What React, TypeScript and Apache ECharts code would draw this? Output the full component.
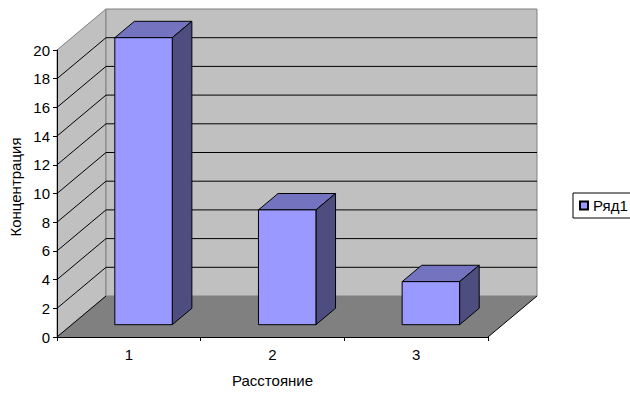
import React, { useEffect, useRef } from "react";
import * as echarts from "echarts";

const categories = ["1", "2", "3"];
const seriesName = "Ряд1";
const values = [20, 8, 3];
const yMin = 0;
const yMax = 20;
const yStep = 2;
const xTitle = "Расстояние";
const yTitle = "Концентрация";

// oblique depth of the floor/walls, in pixels
const DX = 49;
const DY = -41;
// bars occupy this slice of the floor's depth
const F1 = 0.3;
const F2 = 0.7;
const BAR_FRAC = 0.4;

const FONT = "'Liberation Sans', Arial, sans-serif";
const FS = 15;

export default function App() {
  const ref = useRef<HTMLDivElement>(null);

  useEffect(() => {
    if (!ref.current) return;
    const chart = echarts.init(ref.current, null, { renderer: "svg" });

    const tickValues: number[] = [];
    for (let v = yMin; v <= yMax; v += yStep) tickValues.push(v);

    const renderWalls = (params: any, api: any) => {
      const cs = params.coordSys;
      const x = cs.x;
      const y = cs.y;
      const w = cs.width;
      const h = cs.height;
      const children: any[] = [];
      // left side wall
      children.push({
        type: "polygon",
        shape: { points: [[x, y], [x + DX, y + DY], [x + DX, y + h + DY], [x, y + h]] },
        style: { fill: "#C0C0C0", stroke: "#808080", lineWidth: 1 },
      });
      // back wall
      children.push({
        type: "rect",
        shape: { x: x + DX, y: y + DY, width: w, height: h },
        style: { fill: "#C0C0C0", stroke: "#808080", lineWidth: 1 },
      });
      // floor
      children.push({
        type: "polygon",
        shape: { points: [[x, y + h], [x + w, y + h], [x + w + DX, y + h + DY], [x + DX, y + h + DY]] },
        style: { fill: "#808080" },
      });
      children.push({
        type: "line",
        shape: { x1: x + w, y1: y + h, x2: x + w + DX, y2: y + h + DY },
        style: { stroke: "#000", lineWidth: 1 },
      });
      // gridlines on the side and back walls
      tickValues.forEach((v) => {
        if (v === yMax) return;
        const py = api.coord([0, v])[1];
        children.push({
          type: "line",
          shape: { x1: x, y1: py, x2: x + DX, y2: py + DY },
          style: { stroke: "#000", lineWidth: 1 },
        });
        if (v !== yMin) {
          children.push({
            type: "line",
            shape: { x1: x + DX, y1: py + DY, x2: x + w + DX, y2: py + DY },
            style: { stroke: "#000", lineWidth: 1 },
          });
        }
      });
      return { type: "group", children };
    };

    const renderBar = (params: any, api: any) => {
      const top = api.coord([api.value(0), api.value(1)]);
      const base = api.coord([api.value(0), 0]);
      const band = api.size([1, 0])[0];
      const bw = band * BAR_FRAC;
      const x0 = top[0] - bw / 2 + DX * F1;
      const x1 = x0 + bw;
      const yT = top[1] + DY * F1;
      const yB = base[1] + DY * F1;
      const dx = DX * (F2 - F1);
      const dy = DY * (F2 - F1);
      const stroke = { stroke: "#000", lineWidth: 1, lineJoin: "round" };
      return {
        type: "group",
        children: [
          {
            type: "polygon",
            shape: { points: [[x0, yT], [x1, yT], [x1 + dx, yT + dy], [x0 + dx, yT + dy]] },
            style: { fill: "#7373BF", ...stroke },
          },
          {
            type: "polygon",
            shape: { points: [[x1, yT], [x1 + dx, yT + dy], [x1 + dx, yB + dy], [x1, yB]] },
            style: { fill: "#4D4D80", ...stroke },
          },
          {
            type: "rect",
            shape: { x: x0, y: yT, width: bw, height: yB - yT },
            style: { fill: "#9999FF", ...stroke },
          },
        ],
      };
    };

    chart.setOption({
      animation: false,
      backgroundColor: "#fff",
      textStyle: { fontFamily: FONT },
      grid: { left: 57, top: 50, width: 431, height: 290 },
      legend: {
        data: [{ name: seriesName, icon: "rect" }],
        left: 573,
        top: 193,
        orient: "vertical",
        borderColor: "#000",
        borderWidth: 1,
        borderRadius: 0,
        padding: [5, 20, 5, 6],
        itemWidth: 8,
        itemHeight: 8,
        textStyle: { fontFamily: FONT, fontSize: FS, color: "#000" },
      },
      xAxis: {
        type: "category",
        data: categories,
        boundaryGap: true,
        axisLine: { lineStyle: { color: "#000", width: 1 } },
        axisTick: { show: true, length: 4, lineStyle: { color: "#000" } },
        axisLabel: { margin: 10, fontSize: FS, color: "#000", fontFamily: FONT },
        name: xTitle,
        nameLocation: "middle",
        nameGap: 36,
        nameTextStyle: { fontSize: FS, color: "#000", fontFamily: FONT },
        splitLine: { show: false },
        z: 3,
      },
      yAxis: {
        type: "value",
        min: yMin,
        max: yMax,
        interval: yStep,
        axisLine: { show: true, lineStyle: { color: "#000", width: 1 } },
        axisTick: { show: true, length: 4, lineStyle: { color: "#000" } },
        axisLabel: { margin: 7, fontSize: FS, color: "#000", fontFamily: FONT },
        splitLine: { show: false },
        z: 3,
      },
      graphic: [
        {
          type: "text",
          x: 15,
          y: 187,
          rotation: Math.PI / 2,
          style: {
            text: yTitle,
            fontSize: FS,
            fontFamily: FONT,
            fill: "#000",
            align: "center",
            verticalAlign: "middle",
          },
        },
      ],
      series: [
        {
          type: "custom",
          name: "walls",
          z: 1,
          silent: true,
          data: [[0, 0]],
          renderItem: renderWalls,
        },
        {
          type: "custom",
          name: seriesName,
          z: 4,
          data: values.map((v, i) => [i, v]),
          itemStyle: { color: "#9999FF", borderColor: "#000", borderWidth: 1 },
          renderItem: renderBar,
        },
      ],
    });

    return () => chart.dispose();
  }, []);

  return (
    <div
      ref={ref}
      style={{ position: "fixed", left: 0, top: 0, width: 630, height: 393 }}
    />
  );
}
